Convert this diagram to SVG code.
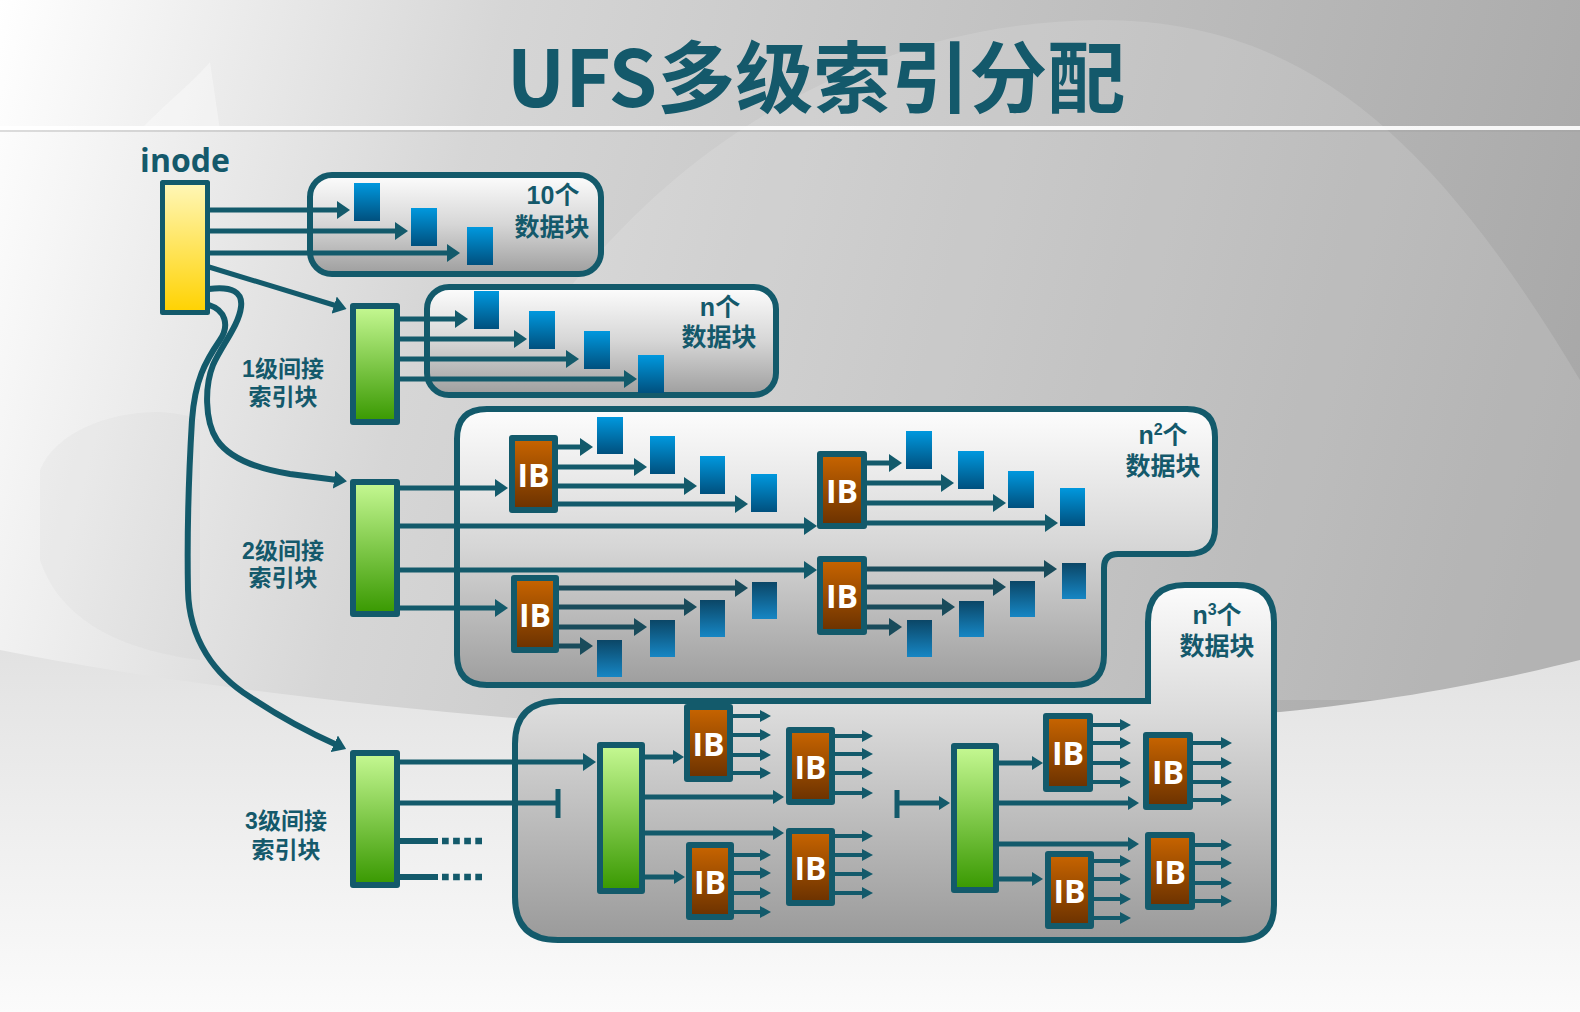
<svg xmlns="http://www.w3.org/2000/svg" width="1580" height="1012" viewBox="0 0 1580 1012">
<defs>
<linearGradient id="bg" gradientUnits="userSpaceOnUse" x1="0" y1="0" x2="1580" y2="420"><stop offset="0" stop-color="#ffffff"/><stop offset="0.3" stop-color="#d6d6d6"/><stop offset="1" stop-color="#a8a8a8"/></linearGradient>
<linearGradient id="bgb" x1="0" y1="0" x2="0" y2="1"><stop offset="0" stop-color="#e2e2e2"/><stop offset="1" stop-color="#fbfbfb"/></linearGradient>
<linearGradient id="box" x1="0" y1="0" x2="0" y2="1"><stop offset="0" stop-color="#fdfdfd"/><stop offset="0.5" stop-color="#d6d6d6"/><stop offset="1" stop-color="#9e9e9e"/></linearGradient>
<linearGradient id="box4" x1="0" y1="0" x2="0" y2="1"><stop offset="0" stop-color="#fcfcfc"/><stop offset="0.35" stop-color="#dcdcdc"/><stop offset="1" stop-color="#9a9a9a"/></linearGradient>
<linearGradient id="yel" x1="0" y1="0" x2="0" y2="1"><stop offset="0" stop-color="#fff7b8"/><stop offset="1" stop-color="#ffd200"/></linearGradient>
<linearGradient id="grn" x1="0" y1="0" x2="0" y2="1"><stop offset="0" stop-color="#c6f993"/><stop offset="1" stop-color="#389800"/></linearGradient>
<linearGradient id="ib" x1="0" y1="0" x2="0" y2="1"><stop offset="0" stop-color="#c96500"/><stop offset="1" stop-color="#6a3100"/></linearGradient>
<linearGradient id="blk" x1="0" y1="0" x2="0" y2="1"><stop offset="0" stop-color="#0098de"/><stop offset="1" stop-color="#00507e"/></linearGradient>
<linearGradient id="blkd" x1="0" y1="0" x2="0" y2="1"><stop offset="0" stop-color="#0b4666"/><stop offset="1" stop-color="#1686c4"/></linearGradient>
<marker id="a" markerUnits="userSpaceOnUse" viewBox="0 0 13 18" markerWidth="13" markerHeight="18" refX="3" refY="9" orient="auto"><path d="M0,0L13,9L0,18z" fill="#135a6b"/></marker>
<marker id="ad" markerUnits="userSpaceOnUse" viewBox="0 0 13 18" markerWidth="13" markerHeight="18" refX="3" refY="9" orient="auto"><path d="M0,0L13,9L0,18z" fill="#194b5b"/></marker>
<marker id="m" markerUnits="userSpaceOnUse" viewBox="0 0 11 14" markerWidth="11" markerHeight="14" refX="3" refY="7" orient="auto"><path d="M0,0L11,7L0,14z" fill="#135a6b"/></marker>
<marker id="s" markerUnits="userSpaceOnUse" viewBox="0 0 11 12" markerWidth="11" markerHeight="12" refX="3" refY="6" orient="auto"><path d="M0,0L11,6L0,12z" fill="#135a6b"/></marker>
<style>
.t{font-family:"Noto Sans CJK SC","Noto Sans",sans-serif;font-weight:bold;fill:#14596b;text-anchor:middle}
.t2{font-family:"Liberation Sans","Noto Sans CJK SC",sans-serif;font-weight:bold;fill:#14596b;text-anchor:middle}
.ib{font-family:"Open Sans","Noto Sans",sans-serif;font-weight:bold;fill:#ffffff;font-size:32px;text-anchor:middle}
.cont{stroke:#135a6b;stroke-width:6;fill:url(#box)}
.nd{stroke:#135a6b;stroke-width:6;stroke-linejoin:round}
.g{fill:url(#grn)}
.r{fill:url(#ib)}
.b{fill:url(#blk)}
.bd{fill:url(#blkd)}
.c{stroke:#135a6b;stroke-width:5;fill:none;marker-end:url(#a)}
.cd{stroke:#194b5b;stroke-width:5;fill:none;marker-end:url(#ad)}
.cm{stroke:#135a6b;stroke-width:5;fill:none;marker-end:url(#m)}
.cs{stroke:#135a6b;stroke-width:4;fill:none;marker-end:url(#s)}
.ln{stroke:#135a6b;stroke-width:5;fill:none}
</style>
</defs>

<g id="background">
<rect x="0" y="0" width="1580" height="1012" fill="url(#bg)"/>
<path d="M560,300 C690,130 880,22 1100,20 C1300,20 1430,130 1580,380 L1580,700 L560,700 Z" fill="#ffffff" opacity="0.13"/>
<path d="M40,470 C60,420 150,400 200,420 L200,660 C120,650 60,620 40,560 Z" fill="#9a9a9a" opacity="0.06"/>
<path d="M0,650 C150,680 350,705 560,722 C800,730 1100,725 1280,712 C1400,700 1500,680 1580,660 L1580,1012 L0,1012 Z" fill="url(#bgb)"/>
<path d="M140,130 C170,100 195,80 210,62 L220,130 Z" fill="#ffffff" opacity="0.35"/>
<rect x="0" y="126" width="1580" height="4" fill="#ffffff" opacity="0.9"/>
<rect x="0" y="130" width="1580" height="2" fill="#a0a0a0" opacity="0.35"/>
</g>

<text class="t" x="816" y="107" font-size="78">UFS多级索引分配</text>

<g id="box-10">
<rect class="cont" x="310" y="175" width="291" height="99" rx="22"/>
<text class="t2" font-size="25"><tspan x="553" y="204">10个</tspan><tspan x="552" y="236">数据块</tspan></text>
</g>
<g id="box-n">
<rect class="cont" x="427" y="287" width="349" height="108" rx="22"/>
<text class="t2" font-size="25"><tspan x="720" y="316">n个</tspan><tspan x="719" y="346">数据块</tspan></text>
</g>
<g id="box-n2">
<path class="cont" d="M487,409 L1187,409 Q1215,409 1215,437 L1215,527 Q1215,554 1188,554 L1118,554 Q1104,554 1104,568 L1104,655 Q1104,685 1074,685 L487,685 Q457,685 457,655 L457,439 Q457,409 487,409 Z"/>
<text class="t2" font-size="25"><tspan x="1163" y="444">n</tspan><tspan font-size="16" dy="-9">2</tspan><tspan dy="9">个</tspan><tspan x="1163" y="475">数据块</tspan></text>
</g>
<g id="box-n3">
<path class="cont" style="fill:url(#box4)" d="M560,701 L1148,701 L1148,622 Q1148,585 1185,585 L1237,585 Q1274,585 1274,622 L1274,905 Q1274,940 1239,940 L558,940 Q515,940 515,897 L515,744 Q515,701 560,701 Z"/>
<text class="t2" font-size="25"><tspan x="1217" y="624">n</tspan><tspan font-size="16" dy="-9">3</tspan><tspan dy="9">个</tspan><tspan x="1217" y="655">数据块</tspan></text>
</g>

<g id="labels">
<text class="t" x="185" y="172" font-size="32" style="font-family:'Open Sans','Noto Sans',sans-serif">inode</text>
<text class="t2" font-size="23"><tspan x="283" y="377">1级间接</tspan><tspan x="283" y="405">索引块</tspan></text>
<text class="t2" font-size="23"><tspan x="283" y="559">2级间接</tspan><tspan x="283" y="586">索引块</tspan></text>
<text class="t2" font-size="23"><tspan x="286" y="829">3级间接</tspan><tspan x="286" y="858">索引块</tspan></text>
</g>

<g id="connectors">
<path class="c" d="M209,210 H340"/>
<path class="c" d="M209,231 H398"/>
<path class="c" d="M209,253 H450"/>
<path class="c" d="M209,267 L337,306"/>
<path class="c" style="stroke-width:6" d="M209,289 C232,286 243,292 241,307 C239,325 222,345 213,365 C205,385 204,420 217,440 C232,462 265,470 290,474 L337,480"/>
<path class="c" style="stroke-width:6" d="M209,305 C225,310 230,325 220,340 C205,362 195,380 192,420 C189,470 187,540 188,590 C189,640 215,675 250,697 C280,717 310,733 337,745"/>

<path class="c" d="M397,319 H458"/>
<path class="c" d="M397,339 H517"/>
<path class="c" d="M397,359 H569"/>
<path class="c" d="M397,379 H627"/>

<path class="c" d="M397,488 H498"/>
<path class="c" d="M397,526 H807"/>
<path class="c" d="M397,570 H807"/>
<path class="c" d="M397,608 H498"/>

<path class="c" d="M555,447 H583"/>
<path class="c" d="M555,467 H637"/>
<path class="c" d="M555,486 H687"/>
<path class="c" d="M555,504 H738"/>
<path class="c" d="M864,463 H892"/>
<path class="c" d="M864,483 H944"/>
<path class="c" d="M864,503 H996"/>
<path class="c" d="M864,523 H1048"/>
<path class="cd" d="M864,569 H1047"/>
<path class="cd" d="M864,587 H996"/>
<path class="cd" d="M864,607 H945"/>
<path class="cd" d="M864,627 H892"/>
<path class="cd" d="M556,588 H738"/>
<path class="cd" d="M556,607 H687"/>
<path class="cd" d="M556,627 H637"/>
<path class="cd" d="M556,646 H583"/>

<path class="c" d="M397,762 H586"/>
<path class="ln" d="M397,803 H558 M558,789 V818"/>
<path class="ln" style="stroke-width:6" d="M397,841 H438 M397,877 H438"/>
<path class="ln" style="stroke-width:6.5;stroke-dasharray:6.7 4.4" d="M442,841 H482 M442,877 H482"/>

<path class="cm" d="M643,757 H676"/>
<path class="cm" d="M643,797 H776"/>
<path class="cm" d="M643,833 H776"/>
<path class="cm" d="M643,877 H677"/>
<path class="cs" d="M731,716 H763"/>
<path class="cs" d="M731,735 H763"/>
<path class="cs" d="M731,755 H763"/>
<path class="cs" d="M731,773 H763"/>
<path class="cs" d="M833,736 H865"/>
<path class="cs" d="M833,754 H865"/>
<path class="cs" d="M833,773 H865"/>
<path class="cs" d="M833,793 H865"/>
<path class="cs" d="M833,836 H865"/>
<path class="cs" d="M833,855 H865"/>
<path class="cs" d="M833,874 H865"/>
<path class="cs" d="M833,893 H865"/>
<path class="cs" d="M732,855 H763"/>
<path class="cs" d="M732,873 H763"/>
<path class="cs" d="M732,893 H763"/>
<path class="cs" d="M732,912 H763"/>

<path class="ln" d="M897,790 V818"/>
<path class="cm" d="M897,803 H942"/>
<path class="cm" d="M997,763 H1035"/>
<path class="cm" d="M997,803 H1131"/>
<path class="cm" d="M997,844 H1131"/>
<path class="cm" d="M997,879 H1035"/>
<path class="cs" d="M1091,725 H1123"/>
<path class="cs" d="M1091,743 H1123"/>
<path class="cs" d="M1091,763 H1123"/>
<path class="cs" d="M1091,782 H1123"/>
<path class="cs" d="M1191,743 H1224"/>
<path class="cs" d="M1191,763 H1224"/>
<path class="cs" d="M1191,782 H1224"/>
<path class="cs" d="M1191,800 H1224"/>
<path class="cs" d="M1193,845 H1224"/>
<path class="cs" d="M1193,863 H1224"/>
<path class="cs" d="M1193,883 H1224"/>
<path class="cs" d="M1193,901 H1224"/>
<path class="cs" d="M1092,861 H1123"/>
<path class="cs" d="M1092,879 H1123"/>
<path class="cs" d="M1092,899 H1123"/>
<path class="cs" d="M1092,918 H1123"/>
</g>

<g id="inode"><rect class="nd" style="stroke-width:5" x="162.5" y="182.5" width="45" height="130" fill="url(#yel)"/></g>
<g id="l1"><rect class="nd g" x="353" y="306" width="44" height="116"/></g>
<g id="l2"><rect class="nd g" x="353" y="482" width="44" height="132"/></g>
<g id="l3"><rect class="nd g" x="353" y="753" width="44" height="132"/></g>
<g id="l3-ib-a"><rect class="nd g" x="600" y="745" width="42" height="146"/></g>
<g id="l3-ib-b"><rect class="nd g" x="954" y="746" width="42" height="144"/></g>

<g id="data-blocks">
<rect class="b" x="354" y="183" width="26" height="38"/>
<rect class="b" x="411" y="208" width="26" height="38"/>
<rect class="b" x="467" y="227" width="26" height="38"/>
<rect class="b" x="474" y="291" width="25" height="38"/>
<rect class="b" x="529" y="311" width="26" height="38"/>
<rect class="b" x="584" y="331" width="26" height="38"/>
<rect class="b" x="638" y="355" width="26" height="38"/>
<rect class="b" x="597" y="417" width="26" height="37"/>
<rect class="b" x="650" y="436" width="25" height="38"/>
<rect class="b" x="700" y="456" width="25" height="38"/>
<rect class="b" x="751" y="474" width="26" height="38"/>
<rect class="b" x="906" y="431" width="26" height="38"/>
<rect class="b" x="958" y="451" width="26" height="38"/>
<rect class="b" x="1008" y="471" width="26" height="37"/>
<rect class="b" x="1060" y="488" width="25" height="38"/>
<rect class="bd" x="597" y="640" width="25" height="37"/>
<rect class="bd" x="650" y="620" width="25" height="37"/>
<rect class="bd" x="700" y="600" width="25" height="37"/>
<rect class="bd" x="752" y="582" width="25" height="37"/>
<rect class="bd" x="907" y="620" width="25" height="37"/>
<rect class="bd" x="959" y="601" width="25" height="36"/>
<rect class="bd" x="1010" y="581" width="25" height="36"/>
<rect class="bd" x="1062" y="563" width="24" height="36"/>
</g>

<g id="ib-2a"><rect class="nd r" x="512" y="438" width="43" height="72"/><text class="ib" x="533.5" y="487">IB</text></g>
<g id="ib-2b"><rect class="nd r" x="820" y="454" width="44" height="72"/><text class="ib" x="842" y="503">IB</text></g>
<g id="ib-2c"><rect class="nd r" x="820" y="559" width="44" height="73"/><text class="ib" x="842" y="608">IB</text></g>
<g id="ib-2d"><rect class="nd r" x="514" y="578" width="42" height="72"/><text class="ib" x="535" y="627">IB</text></g>
<g id="ib-3a"><rect class="nd r" x="687" y="707" width="43" height="72"/><text class="ib" x="708.5" y="756">IB</text></g>
<g id="ib-3b"><rect class="nd r" x="789" y="730" width="43" height="72"/><text class="ib" x="810.5" y="779">IB</text></g>
<g id="ib-3c"><rect class="nd r" x="789" y="831" width="43" height="72"/><text class="ib" x="810.5" y="880">IB</text></g>
<g id="ib-3d"><rect class="nd r" x="689" y="845" width="42" height="72"/><text class="ib" x="710" y="894">IB</text></g>
<g id="ib-3e"><rect class="nd r" x="1046" y="716" width="44" height="73"/><text class="ib" x="1068" y="765">IB</text></g>
<g id="ib-3f"><rect class="nd r" x="1146" y="735" width="44" height="72"/><text class="ib" x="1168" y="784">IB</text></g>
<g id="ib-3g"><rect class="nd r" x="1148" y="835" width="44" height="72"/><text class="ib" x="1170" y="884">IB</text></g>
<g id="ib-3h"><rect class="nd r" x="1048" y="854" width="43" height="72"/><text class="ib" x="1069.5" y="903">IB</text></g>
</svg>
